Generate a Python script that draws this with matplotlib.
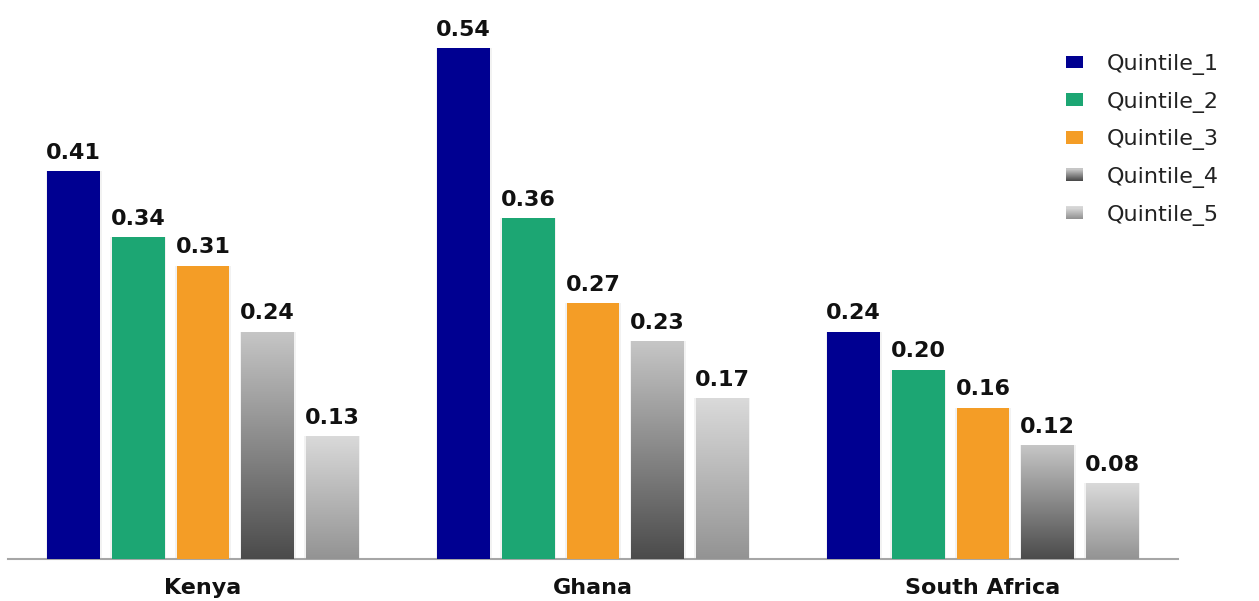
import numpy as np
import matplotlib
matplotlib.use("Agg")
import matplotlib.pyplot as plt
from matplotlib.patches import Rectangle
from matplotlib.legend_handler import HandlerBase
from matplotlib.colors import LinearSegmentedColormap

countries = ["Kenya", "Ghana", "South Africa"]
series_names = ["Quintile_1", "Quintile_2", "Quintile_3", "Quintile_4", "Quintile_5"]
q1 = [0.41, 0.54, 0.24]
q2 = [0.34, 0.36, 0.20]
q3 = [0.31, 0.27, 0.16]
q4 = [0.24, 0.23, 0.12]
q5 = [0.13, 0.17, 0.08]
values = [q1, q2, q3, q4, q5]

solid_colors = ["#000091", "#1ca673", "#f49d26", None, None]
gradients = [None, None, None, ("#c6c6c6", "#4b4b4b"), ("#dadada", "#939393")]

plt.rcParams['font.family'] = ['DejaVu Sans']

fig = plt.figure(figsize=(12.59, 6.01), dpi=100)
ax = fig.add_axes([8/1259, 42/601, 1170/1259, 549/601])

x = np.arange(len(countries))
step = 0.166
width = 0.1355
offsets = (np.arange(5) - 2) * step

for i, (name, vals) in enumerate(zip(series_names, values)):
    xs = x + offsets[i]
    if gradients[i] is None:
        bars = ax.bar(xs, vals, width=width, color=solid_colors[i], zorder=3, label=name)
    else:
        top, bot = gradients[i]
        cmap = LinearSegmentedColormap.from_list("g%d" % i, [bot, top])
        bars = ax.bar(xs, vals, width=width, color="none", zorder=3, label=name)
        for b in bars:
            x0, y0 = b.get_x(), b.get_y()
            w, h = b.get_width(), b.get_height()
            grad = np.linspace(0, 1, 256).reshape(-1, 1)
            im = ax.imshow(grad, cmap=cmap, origin="lower", aspect="auto",
                           extent=(x0, x0 + w, y0, y0 + h), zorder=3)
            im.set_clip_path(b)
    # subtle shadow at the sides
    for b in bars:
        ax.add_patch(Rectangle((b.get_x() - 0.004, 0), b.get_width() + 0.008,
                               b.get_height(), facecolor="#000000",
                               alpha=0.05, edgecolor="none", zorder=2))
    for xi, v in zip(xs, vals):
        ax.annotate(f"{v:.2f}", (xi, v), xytext=(0, 6), textcoords="offset points",
                    ha="center", va="bottom", fontsize=16, fontweight="bold",
                    color="#111111")

ax.set_xlim(-0.5, 2.5)
ax.set_ylim(0, 0.58)
ax.set_xticks(x)
ax.set_xticklabels(countries, fontsize=16, fontweight="bold", color="#111111")
ax.tick_params(axis="x", length=0, pad=14)
ax.set_yticks([])
for s in ["top", "right", "left"]:
    ax.spines[s].set_visible(False)
ax.spines["bottom"].set_color("#a6a6a6")
ax.spines["bottom"].set_linewidth(1.5)


class GradHandler(HandlerBase):
    def __init__(self, top, bot):
        super().__init__()
        self.top = top
        self.bot = bot

    def create_artists(self, legend, orig_handle, xdescent, ydescent, width, height, fontsize, trans):
        cmap = LinearSegmentedColormap.from_list("lg", [self.bot, self.top])
        n = 12
        arts = []
        for k in range(n):
            r = Rectangle((-xdescent, -ydescent + height * k / n), width, height / n + 0.3,
                          facecolor=cmap(k / (n - 1)), edgecolor="none", transform=trans)
            arts.append(r)
        return arts


handles, labels = ax.get_legend_handles_labels()
handler_map = {}
for i, h in enumerate(handles):
    if gradients[i] is not None:
        handler_map[h] = GradHandler(*gradients[i])

leg = fig.legend(handles, labels, handler_map=handler_map, loc="upper left",
                 bbox_to_anchor=(1046/1259, 1 - 34/601), frameon=False,
                 fontsize=16, handlelength=0.75, handleheight=0.5,
                 labelspacing=0.75, handletextpad=1.1)
for t in leg.get_texts():
    t.set_color("#222222")

fig.savefig("out.png", dpi=100)
